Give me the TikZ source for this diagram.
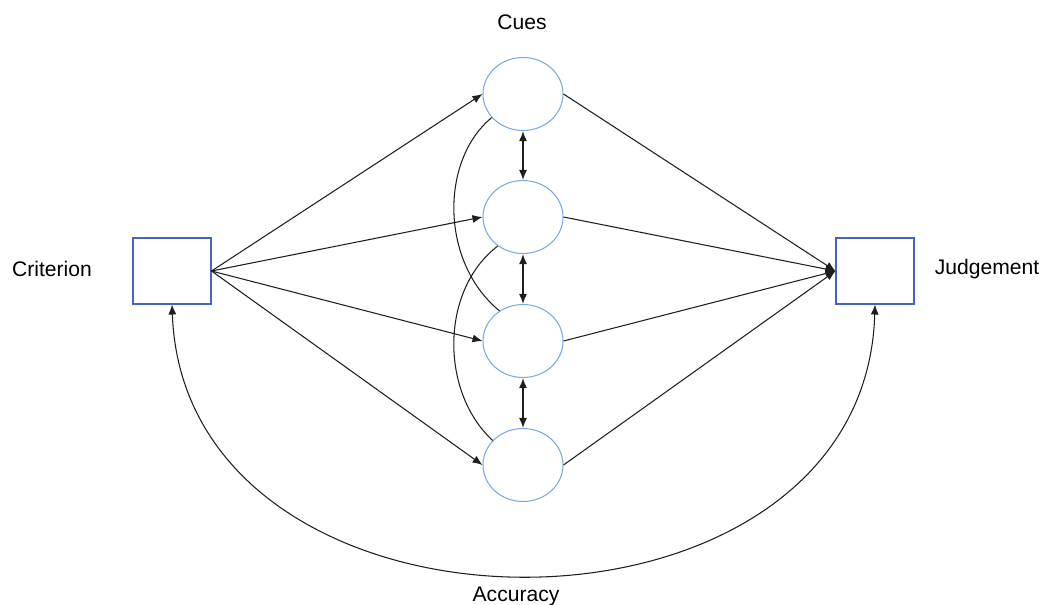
\documentclass[tikz,border=0pt]{standalone}
\usepackage{fontspec}
\setmainfont{Liberation Sans}
\usepackage{xcolor}
\usetikzlibrary{arrows.meta,positioning,shapes.geometric}
\definecolor{cueBlue}{RGB}{120,170,225}
\definecolor{boxBlue}{RGB}{70,100,195}
\definecolor{lineGray}{RGB}{30,30,30}

\begin{document}
\begin{tikzpicture}[
    x=0.02cm, y=-0.02cm,
    cue/.style={ellipse, draw=cueBlue, semithick, fill=white, minimum width=1.6cm, minimum height=1.46cm, inner sep=0pt},
    var/.style={rectangle, draw=boxBlue, semithick, fill=white, minimum width=1.56cm, minimum height=1.32cm, inner sep=0pt},
    lbl/.style={font=\fontsize{12}{14}\selectfont},
    arrow/.style={-{Latex[length=2mm,width=1.6mm]}, draw=lineGray, semithick},
    darrow/.style={{Latex[length=2mm,width=1.6mm]}-{Latex[length=2mm,width=1.6mm]}, draw=lineGray, thick},
    link/.style={draw=lineGray, semithick}
]
\useasboundingbox (0,0) rectangle (1045,605);
\node[var] (crit) at (172,271) {};
\node[var] (judge) at (875,271) {};
\node[cue] (c1) at (523,94) {};
\node[cue] (c2) at (523,217) {};
\node[cue] (c3) at (523,341) {};
\node[cue] (c4) at (523,465) {};
\node[lbl] (critlbl) at (52,269) {Criterion};
\node[lbl] (judgelbl) at (987,269) {Judgement};
\node[lbl] (cueslbl) at (522,22) {Cues};
\node[lbl] (acclbl) at (516,596) {Accuracy};
% criterion to cues
\foreach \c in {c1,c2,c3,c4}
    \draw[arrow] (crit.east) -- (\c.west);
% cues to judgement
\foreach \c in {c1,c2,c3,c4}
    \draw[arrow] (\c.east) -- (judge.west);
% correlations between cues
\draw[darrow] (c1.south) -- (c2.north);
\draw[darrow] (c2.south) -- (c3.north);
\draw[darrow] (c3.south) -- (c4.north);
\draw[link] (c1.217) .. controls (440,160) and (440,262) .. (c3.128);
\draw[link] (c2.229) .. controls (440,290) and (440,392) .. (c4.141);
% accuracy
\draw[arrow, {Latex[length=2mm,width=1.6mm]}-{Latex[length=2mm,width=1.6mm]}] (crit.south) .. controls (185,665) and (865,665) .. (judge.south);
\end{tikzpicture}
\end{document}
